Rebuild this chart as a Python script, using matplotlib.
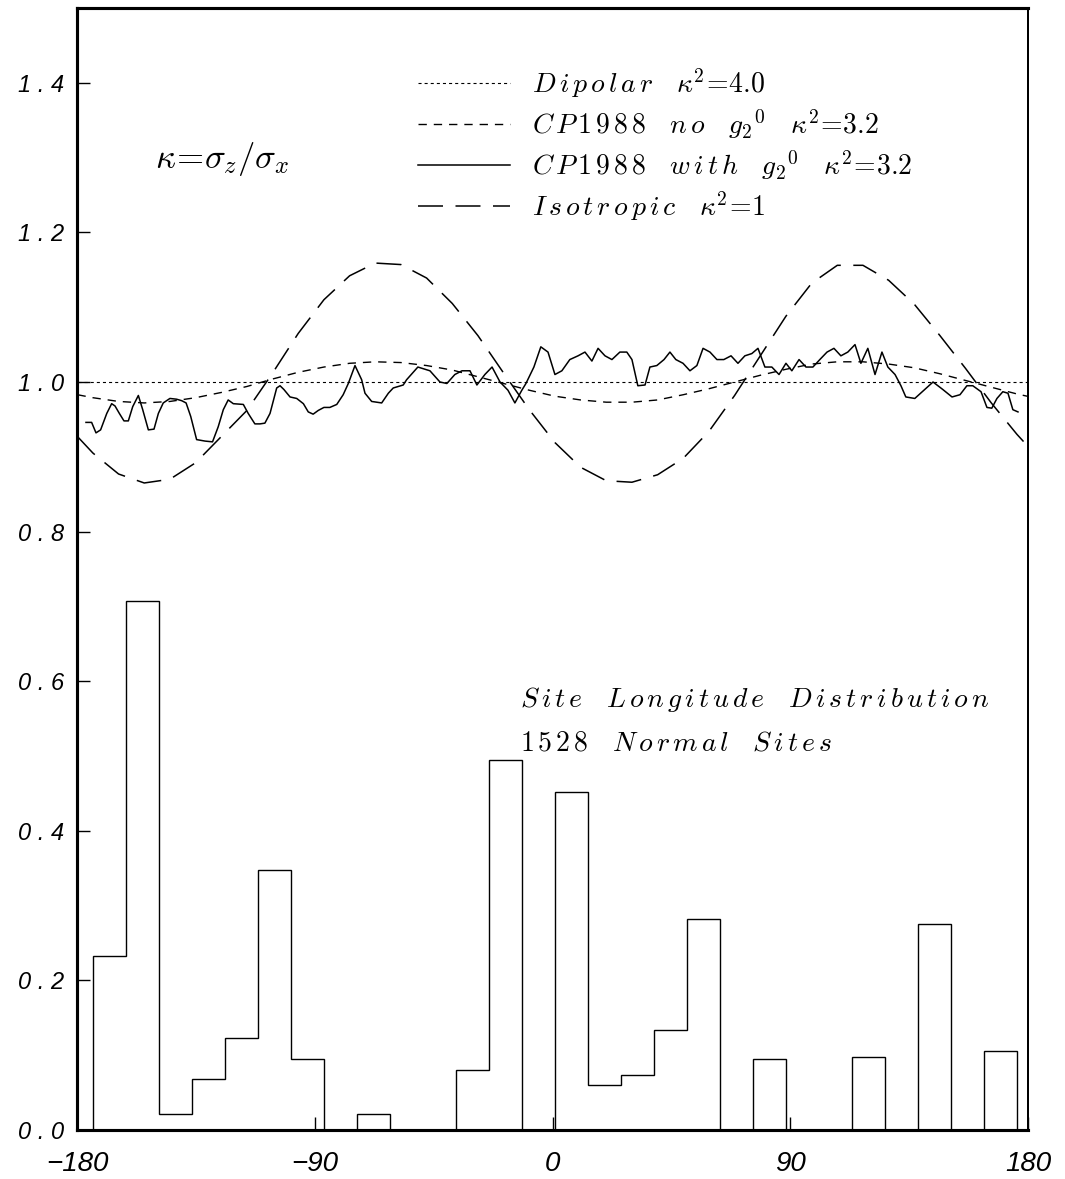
import matplotlib
matplotlib.use("Agg")
import matplotlib.pyplot as plt
import numpy as np

plt.rcParams['mathtext.fontset'] = 'cm'
plt.rcParams['lines.scale_dashes'] = False

# ---------------- data ----------------
hist_edges = np.linspace(-180, 180, 29)
hist_values = [0.233, 0.707, 0.022, 0.068, 0.123, 0.347, 0.095, 0.0, 0.022, 0.0,
               0.0, 0.080, 0.494, 0.0, 0.452, 0.060, 0.073, 0.134, 0.282, 0.0,
               0.095, 0.0, 0.0, 0.097, 0.0, 0.276, 0.0, 0.105]

dipolar_lon = [-186, 184]
dipolar_val = [1.0, 1.0]

smooth_lon = [-186, -180, -170, -160, -150, -140, -130, -120, -110, -100, -90, -80, -70,
              -60, -50, -40, -30, -20, -10, 0, 10, 20, 30, 40, 50, 60, 70, 80, 90,
              100, 110, 120, 130, 140, 150, 160, 170, 180, 184]
nog20_val = [0.983, 0.979, 0.974, 0.972, 0.974, 0.979, 0.986, 0.994, 1.004, 1.013, 1.020,
             1.025, 1.027, 1.026, 1.022, 1.016, 1.007, 0.998, 0.989, 0.981, 0.976, 0.973,
             0.973, 0.976, 0.983, 0.991, 1.000, 1.009, 1.017, 1.024, 1.027, 1.027, 1.024,
             1.019, 1.011, 1.002, 0.993, 0.984, 0.981]
iso_val = [0.927, 0.905, 0.877, 0.865, 0.870, 0.892, 0.927, 0.962, 1.012, 1.065, 1.110,
           1.142, 1.159, 1.157, 1.139, 1.105, 1.062, 1.012, 0.963, 0.919, 0.886, 0.868,
           0.866, 0.876, 0.898, 0.934, 0.982, 1.035, 1.088, 1.132, 1.156, 1.156, 1.136,
           1.104, 1.062, 1.018, 0.972, 0.930, 0.915]

g20_lon = [-182.7, -180.5, -178.8, -177.0, -174.6, -172.7, -171.4, -169.7, -167.9, -166.2,
           -164.5, -162.3, -160.6, -158.4, -156.2, -154.5, -152.6, -150.0, -147.4, -145.4,
           -143.7, -141.9, -139.6, -136.3, -133.4, -131.2, -129.2, -127.3, -125.3, -121.4,
           -119.5, -116.9, -114.9, -113.0, -111.0, -108.4, -107.1, -105.6, -103.2, -100.6,
           -98.0, -96.1, -94.2, -92.2, -90.0, -87.7, -85.0, -82.5, -80.5, -77.9,
           -75.3, -74.0, -71.4, -67.5, -64.9, -63.0, -59.1, -57.8, -53.4, -48.7,
           -44.8, -42.1, -39.0, -36.2, -33.1, -30.4, -27.3, -24.5, -21.4, -18.3,
           -15.6, -12.9, -11.3, -8.2, -5.5, -2.7, 0.0, 2.7, 5.8, 9.0,
           11.7, 14.4, 16.8, 19.5, 22.2, 25.3, 28.0, 30.0, 32.3, 35.1,
           37.0, 39.7, 42.5, 44.8, 47.1, 49.9, 52.6, 55.3, 57.7, 60.4,
           63.1, 65.8, 68.6, 71.3, 74.0, 76.7, 79.1, 81.8, 84.5, 87.3,
           90.0, 92.3, 95.1, 97.8, 100.5, 103.2, 106.0, 108.7, 111.4, 114.1,
           116.9, 119.2, 121.9, 124.7, 127.4, 129.7, 132.5, 134.8, 136.7, 140.2,
           144.1, 147.3, 151.1, 154.7, 157.8, 160.5, 162.8, 166.0, 168.3, 170.2,
           172.2, 174.5, 176.5, 178.4, 180.4]
g20_val = [0.946, 0.946, 0.932, 0.936, 0.958, 0.971, 0.968, 0.958, 0.948, 0.948,
           0.967, 0.982, 0.963, 0.936, 0.937, 0.958, 0.972, 0.978, 0.977, 0.975,
           0.972, 0.954, 0.923, 0.921, 0.920, 0.940, 0.963, 0.976, 0.971, 0.970,
           0.958, 0.944, 0.944, 0.945, 0.958, 0.992, 0.995, 0.990, 0.980, 0.978,
           0.971, 0.960, 0.957, 0.962, 0.966, 0.966, 0.970, 0.983, 0.998, 1.022,
           1.003, 0.985, 0.974, 0.972, 0.985, 0.992, 0.996, 1.003, 1.020, 1.015,
           1.000, 0.998, 1.010, 1.015, 1.015, 0.996, 1.010, 1.020, 1.000, 0.989,
           0.972, 0.989, 0.998, 1.020, 1.047, 1.040, 1.010, 1.015, 1.030, 1.035,
           1.040, 1.028, 1.045, 1.035, 1.030, 1.040, 1.040, 1.030, 0.995, 0.996,
           1.020, 1.022, 1.030, 1.040, 1.030, 1.025, 1.015, 1.022, 1.045, 1.040,
           1.030, 1.030, 1.035, 1.025, 1.035, 1.038, 1.045, 1.020, 1.020, 1.010,
           1.025, 1.015, 1.030, 1.020, 1.020, 1.030, 1.040, 1.045, 1.035, 1.040,
           1.050, 1.025, 1.045, 1.010, 1.040, 1.020, 1.010, 0.995, 0.980, 0.978,
           0.990, 1.000, 0.990, 0.980, 0.983, 0.995, 0.995, 0.987, 0.966, 0.965,
           0.978, 0.987, 0.985, 0.963, 0.960]

# frame axis (tick labels span the full frame: -180 .. 180)
x_ticks = [-180, -90, 0, 90, 180]
x_ticklabels = ["\u2212180", "\u221290", "0", "90", "180"]
y_ticks = [0.0, 0.2, 0.4, 0.6, 0.8, 1.0, 1.2, 1.4]
y_ticklabels = ["0 . 0", "0 . 2", "0 . 4", "0 . 6", "0 . 8", "1 . 0", "1 . 2", "1 . 4"]

labels = [r"$D\,i\,p\,o\,l\,a\,r\ \ \ \kappa^2\!=\!4.0$",
          r"$C\,P\,1\,9\,8\,8\ \ \ n\,o\ \ \ g_2{}^0\ \ \ \kappa^2\!=\!3.2$",
          r"$C\,P\,1\,9\,8\,8\ \ \ w\,i\,t\,h\ \ \ g_2{}^0\ \ \ \kappa^2\!=\!3.2$",
          r"$I\,s\,o\,t\,r\,o\,p\,i\,c\ \ \ \kappa^2\!=\!1$"]
kappa_label = r"$\kappa\!=\!\sigma_z/\sigma_x$"
site_line1 = r"$S\,i\,t\,e\ \ \ L\,o\,n\,g\,i\,t\,u\,d\,e\ \ \ D\,i\,s\,t\,r\,i\,b\,u\,t\,i\,o\,n$"
site_line2 = r"$1\,5\,2\,8\ \ \ N\,o\,r\,m\,a\,l\ \ \ S\,i\,t\,e\,s$"

# ---------------- figure ----------------
W, H = 1065, 1179
fig = plt.figure(figsize=(W / 100, H / 100), dpi=100)
ax = fig.add_axes([77 / W, 49 / H, (1028 - 77) / W, (1130 - 8) / H])
ax.set_xlim(-186.2, 184.3)
ax.set_ylim(0.0, 1.5)

ax.stairs(hist_values, hist_edges, baseline=0, color='black', lw=1.0)

l1, = ax.plot(dipolar_lon, dipolar_val, color='black', lw=0.8, linestyle=(0, (2.2, 2.2)))
l2, = ax.plot(smooth_lon, nog20_val, color='black', lw=1.0, linestyle=(0, (6, 5)))
l3, = ax.plot(g20_lon, g20_val, color='black', lw=1.1, linestyle='-')
l4, = ax.plot(smooth_lon, iso_val, color='black', lw=1.1, linestyle=(0, (18, 9)))

leg = ax.legend([l1, l2, l3, l4], labels, loc='upper left',
                bbox_to_anchor=(418 / W, 1 - 66 / H), bbox_transform=fig.transFigure,
                frameon=False, fontsize=20, handlelength=3.3, handletextpad=0.8,
                labelspacing=0.27, borderpad=0, borderaxespad=0)

ax.text(-155.8, 1.286, kappa_label, fontsize=25, va='baseline', ha='left')
ax.text(-13.6, 0.5655, site_line1, fontsize=20, va='baseline', ha='left')
ax.text(-13.6, 0.508, site_line2, fontsize=20, va='baseline', ha='left')

# data x-axis carries no ticks; the frame axis carries them
ax.set_xticks([])
ax.set_yticks(y_ticks)
ax.set_yticklabels(y_ticklabels, fontsize=17, style='italic', family='Liberation Sans')
ax.tick_params(axis='y', direction='in', length=9.5, width=1.0, pad=9)

axf = ax.twiny()
axf.set_xlim(-180, 180)
axf.xaxis.set_ticks_position('bottom')
axf.set_xticks(x_ticks)
axf.set_xticklabels(x_ticklabels, fontsize=20, style='italic', family='Liberation Sans')
axf.tick_params(axis='x', direction='in', length=9.5, width=1.0, pad=15)

for a in (ax, axf):
    for side in ['left', 'top', 'bottom']:
        a.spines[side].set_linewidth(2.2)
    a.spines['right'].set_linewidth(1.4)

fig.savefig("out.png", dpi=100)
